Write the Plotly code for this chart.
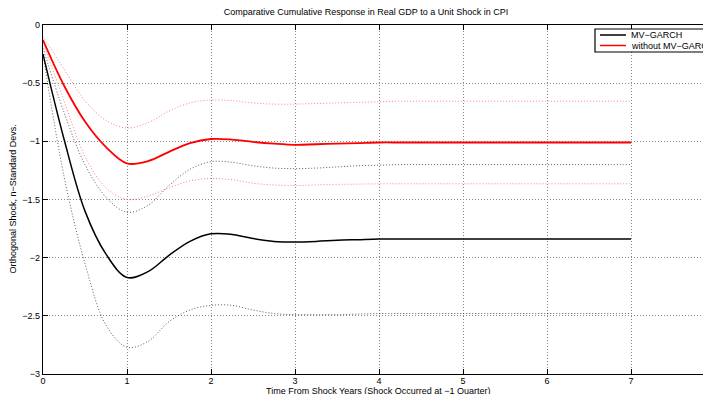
import plotly.graph_objects as go

years = [i / 4 for i in range(29)]

mv_garch = [-0.25, -0.98, -1.60, -1.97, -2.17, -2.12, -1.98, -1.86, -1.795, -1.80,
            -1.835, -1.86, -1.865, -1.86, -1.85, -1.845, -1.84, -1.84, -1.84, -1.84,
            -1.84, -1.84, -1.84, -1.84, -1.84, -1.84, -1.84, -1.84, -1.84]
mv_upper = [-0.20, -0.75, -1.20, -1.48, -1.61, -1.55, -1.38, -1.24, -1.175, -1.18,
            -1.21, -1.23, -1.235, -1.23, -1.22, -1.21, -1.205, -1.20, -1.20, -1.20,
            -1.20, -1.20, -1.20, -1.20, -1.20, -1.20, -1.20, -1.20, -1.20]
mv_lower = [-0.25, -1.30, -2.05, -2.58, -2.77, -2.72, -2.55, -2.45, -2.41, -2.41,
            -2.45, -2.48, -2.49, -2.49, -2.49, -2.485, -2.48, -2.48, -2.48, -2.48,
            -2.48, -2.48, -2.48, -2.48, -2.48, -2.48, -2.48, -2.48, -2.48]

no_garch = [-0.13, -0.52, -0.83, -1.05, -1.19, -1.17, -1.09, -1.015, -0.98, -0.985,
            -1.005, -1.02, -1.03, -1.025, -1.02, -1.015, -1.01, -1.01, -1.01, -1.01,
            -1.01, -1.01, -1.01, -1.01, -1.01, -1.01, -1.01, -1.01, -1.01]
no_upper = [-0.10, -0.38, -0.65, -0.82, -0.885, -0.84, -0.74, -0.67, -0.645, -0.65,
            -0.67, -0.68, -0.68, -0.675, -0.67, -0.665, -0.66, -0.655, -0.655, -0.655,
            -0.655, -0.655, -0.655, -0.655, -0.655, -0.655, -0.655, -0.655, -0.655]
no_lower = [-0.15, -0.65, -1.13, -1.40, -1.50, -1.47, -1.40, -1.34, -1.32, -1.33,
            -1.36, -1.375, -1.38, -1.375, -1.37, -1.368, -1.365, -1.365, -1.365, -1.365,
            -1.365, -1.365, -1.365, -1.365, -1.365, -1.365, -1.365, -1.365, -1.365]

x_ticks = [0, 1, 2, 3, 4, 5, 6, 7]
y_ticks = [0, -0.5, -1, -1.5, -2, -2.5, -3]
y_tick_labels = ["0", "\u22120.5", "\u22121", "\u22121.5", "\u22122", "\u22122.5", "\u22123"]
legend_names = ["MV\u2212GARCH", "without MV\u2212GARCH"]
legend_colors = ["black", "red"]

FONT = "Liberation Sans, Arial, sans-serif"
W, H = 703, 394
ML, MT, MB = 43, 25, 20
PW, PH = W - ML, H - MT - MB


def px_x(p):
    return (p - ML) / PW


def px_y(p):
    return (H - MB - p) / PH


fig = go.Figure()

gray_dot = dict(color="rgba(0,0,0,0.65)", width=1, dash="1px,2px", shape="spline")
pink_dot = dict(color="rgba(255,0,0,0.5)", width=1, dash="1px,2px", shape="spline")

fig.add_trace(go.Scatter(x=years, y=mv_upper, mode="lines", line=gray_dot, showlegend=False))
fig.add_trace(go.Scatter(x=years, y=mv_lower, mode="lines", line=gray_dot, showlegend=False))
fig.add_trace(go.Scatter(x=years, y=no_upper, mode="lines", line=pink_dot, showlegend=False))
fig.add_trace(go.Scatter(x=years, y=no_lower, mode="lines", line=pink_dot, showlegend=False))
fig.add_trace(go.Scatter(x=years, y=mv_garch, mode="lines", name=legend_names[0], showlegend=False,
                         line=dict(color=legend_colors[0], width=1.5, shape="spline")))
fig.add_trace(go.Scatter(x=years, y=no_garch, mode="lines", name=legend_names[1], showlegend=False,
                         line=dict(color=legend_colors[1], width=1.8, shape="spline")))

fig.update_layout(
    width=W, height=H,
    margin=dict(l=ML, r=0, t=MT, b=MB, autoexpand=False),
    paper_bgcolor="white", plot_bgcolor="white",
    font=dict(family=FONT, size=9, color="black"),
    title=dict(text="Comparative Cumulative Response in Real GDP to a Unit Shock in CPI",
               x=366 / W, xref="container", xanchor="center",
               y=1 - 12 / H, yref="container", yanchor="middle",
               font=dict(size=9, family=FONT)),
    showlegend=False,
)

fig.update_xaxes(range=[0, PW / 84], tickvals=x_ticks, ticktext=[str(t) for t in x_ticks],
                 showline=True, linecolor="black", linewidth=1.2, mirror="ticks",
                 ticks="inside", ticklen=5, tickcolor="black", ticklabelstandoff=-2,
                 showgrid=True, gridcolor="#888", griddash="1px,2px", gridwidth=1,
                 zeroline=False, tickfont=dict(size=9, family=FONT))
fig.update_yaxes(range=[-3, 0], tickvals=y_ticks, ticktext=y_tick_labels,
                 showline=True, linecolor="black", linewidth=1.2, mirror=False,
                 ticks="inside", ticklen=5, tickcolor="black",
                 showgrid=True, gridcolor="#888", griddash="1px,2px", gridwidth=1,
                 zeroline=False, tickfont=dict(size=9, family=FONT))

# legend box (clipped at the right edge like the reference)
fig.add_shape(type="rect", xref="paper", yref="paper",
              x0=px_x(595), x1=px_x(760), y0=px_y(52), y1=px_y(29),
              line=dict(color="black", width=1.2), fillcolor="white", layer="above")
for i, (name, col) in enumerate(zip(legend_names, legend_colors)):
    yy = px_y(35 + 10.5 * i)
    fig.add_shape(type="line", xref="paper", yref="paper",
                  x0=px_x(600), x1=px_x(626), y0=yy, y1=yy,
                  line=dict(color=col, width=1.5), layer="above")
    fig.add_annotation(text=name, xref="paper", yref="paper", x=px_x(629), y=yy,
                       xanchor="left", yanchor="middle", showarrow=False,
                       font=dict(size=9, family=FONT))

fig.add_annotation(text="Time From Shock Years (Shock Occurred at \u22121 Quarter)",
                   xref="paper", yref="paper", x=px_x(379), y=px_y(391),
                   xanchor="center", yanchor="middle", showarrow=False,
                   font=dict(size=9, family=FONT))
fig.add_annotation(text="Orthogonal Shock, n\u2212Standard Devs.",
                   xref="paper", yref="paper", x=px_x(12), y=0.5,
                   xanchor="center", yanchor="middle", showarrow=False, textangle=-90,
                   font=dict(size=9, family=FONT))

fig.write_html("out.html")
